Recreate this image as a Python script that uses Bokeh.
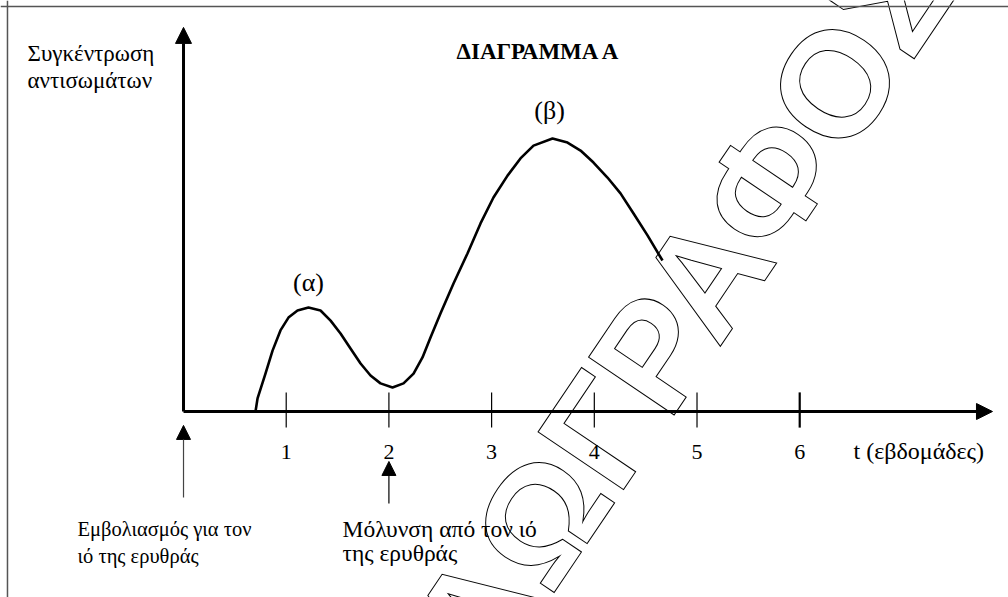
from bokeh.plotting import figure
from bokeh.models import Arrow, NormalHead, Span
from bokeh.core.properties import value
from bokeh.embed import file_html
from bokeh.resources import INLINE

# ---- data ----
weeks = [0.701, 0.721, 0.798, 0.867, 0.944, 1.022, 1.110, 1.217, 1.334, 1.432,
         1.529, 1.626, 1.724, 1.821, 1.918, 2.035, 2.142, 2.240, 2.327, 2.405,
         2.502, 2.629, 2.765, 2.892, 3.018, 3.155, 3.281, 3.408, 3.593, 3.739,
         3.866, 3.992, 4.128, 4.255, 4.382, 4.518, 4.664]
antibody = [0.00, 0.48, 1.39, 2.23, 2.97, 3.44, 3.70, 3.81, 3.70, 3.33,
            2.86, 2.31, 1.76, 1.32, 1.03, 0.88, 1.03, 1.39, 1.98, 2.71,
            3.59, 4.69, 5.79, 6.89, 7.84, 8.64, 9.27, 9.74, 10.00, 9.85,
            9.56, 9.12, 8.57, 7.99, 7.25, 6.45, 5.53]
tick_weeks = [1, 2, 3, 4, 5, 6]
tick_labels = ["1", "2", "3", "4", "5", "6"]
title_text = "ΔΙΑΓΡΑΜΜΑ Α"
y_label = ["Συγκέντρωση", "αντισωμάτων"]
x_label = "t (εβδομάδες)"
peak_labels = ["(α)", "(β)"]
vacc_text = ["Εμβολιασμός για τον", "ιό της ερυθράς"]
infect_text = ["Μόλυνση από τον ιό", "της ερυθράς"]
vacc_week = 0
infect_week = 2
watermark = "ΑΩΓΡΑΦΟΣ"

SERIF = value("Liberation Serif")

p = figure(width=1008, height=597, x_range=(-1.782, 8.033), y_range=(-6.813, 15.055),
           output_backend="svg", toolbar_location=None, min_border=0,
           x_axis_location=None, y_axis_location=None)
p.grid.visible = False
p.outline_line_color = None
p.background_fill_color = "white"

# frame lines (top, left)
p.add_layout(Span(location=14.835, dimension="width", line_color="#555555", line_width=1.5))
p.add_layout(Span(location=-1.714, dimension="height", line_color="#555555", line_width=1.5))

# watermark (outlined letters)
p.text(x=[4.859], y=[3.74], text=[watermark], angle=56, angle_units="deg",
       text_font=value("Liberation Sans"), text_font_style="bold", text_font_size="150px",
       text_color="white", text_outline_color="black", text_align="center", text_baseline="middle")

# axes with arrow heads
p.add_layout(Arrow(end=NormalHead(size=16, fill_color="black", line_color="black", line_width=1),
                   x_start=0, y_start=0, x_end=0, y_end=14.07, line_width=3, line_color="black"))
p.add_layout(Arrow(end=NormalHead(size=16, fill_color="black", line_color="black", line_width=1),
                   x_start=0, y_start=0, x_end=7.877, y_end=0, line_width=3, line_color="black"))

# ticks
p.segment(x0=tick_weeks[:-1], y0=[-0.59] * 5, x1=tick_weeks[:-1], y1=[0.70] * 5,
          line_width=1.2, line_color="black")
p.segment(x0=tick_weeks[-1:], y0=[-0.59], x1=tick_weeks[-1:], y1=[0.70],
          line_width=2.2, line_color="black")
p.text(x=tick_weeks, y=[-1.5] * 6, text=tick_labels, text_font=SERIF, text_font_size="22px",
       text_align="center", text_baseline="alphabetic", text_color="black")

# curve
p.line(weeks, antibody, line_width=2.6, line_color="black", line_join="round")

# labels
p.text(x=[-1.519, -1.519], y=[13.11, 12.12], text=y_label, text_font=SERIF,
       text_font_size="23px", text_align="left", text_baseline="alphabetic", text_color="black")
p.text(x=[3.458], y=[13.19], text=[title_text], text_font=SERIF, text_font_style="bold",
       text_font_size="23px", text_align="center", text_baseline="alphabetic", text_color="black")
p.text(x=[1.217, 3.564], y=[4.73, 11.03], text=peak_labels, text_font=SERIF,
       text_font_size="26px", text_align="center", text_baseline="middle", text_color="black")
p.text(x=[6.524], y=[-1.43], text=[x_label], text_font=SERIF, text_font_size="24px",
       text_align="left", text_baseline="alphabetic", text_color="black")
p.text(x=[-1.032, -1.032], y=[-4.29, -5.31], text=vacc_text, text_font=SERIF,
       text_font_size="20.5px", text_align="left", text_baseline="alphabetic", text_color="black")
p.text(x=[1.548, 1.548], y=[-4.29, -5.20], text=infect_text, text_font=SERIF,
       text_font_size="23.5px", text_align="left", text_baseline="alphabetic", text_color="black")

# event arrows
p.add_layout(Arrow(end=NormalHead(size=14, fill_color="black", line_color="black", line_width=1),
                   x_start=vacc_week, y_start=-3.15, x_end=vacc_week, y_end=-0.51,
                   line_width=1.2, line_color="#444444"))
p.add_layout(Arrow(end=NormalHead(size=14, fill_color="black", line_color="black", line_width=1),
                   x_start=infect_week, y_start=-3.37, x_end=infect_week, y_end=-1.83,
                   line_width=1.2, line_color="black"))

open("out.html", "w").write(file_html(p, INLINE))
